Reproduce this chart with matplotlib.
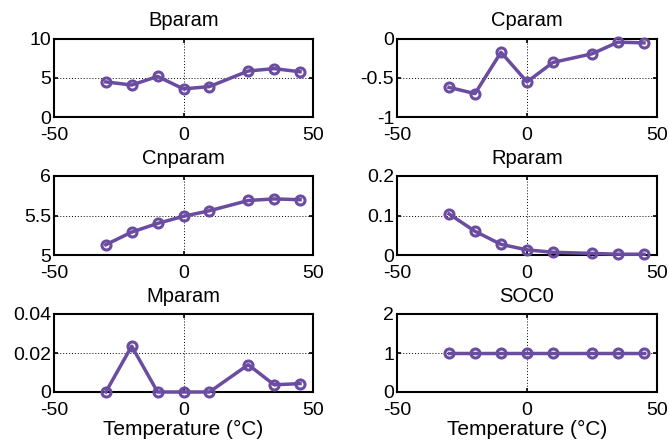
import matplotlib
matplotlib.use('Agg')
import matplotlib.pyplot as plt

plt.rcParams['font.family'] = ['Liberation Sans', 'DejaVu Sans']

temps = [-30, -20, -10, 0, 10, 25, 35, 45]

bparam = [4.5, 4.1, 5.2, 3.6, 3.9, 5.9, 6.2, 5.8]
cparam = [-0.62, -0.70, -0.17, -0.55, -0.30, -0.19, -0.04, -0.05]
cnparam = [5.13, 5.29, 5.40, 5.49, 5.56, 5.69, 5.71, 5.70]
rparam = [0.104, 0.060, 0.027, 0.013, 0.007, 0.004, 0.002, 0.002]
mparam = [0.0, 0.0235, 0.0, 0.0, 0.0, 0.014, 0.0037, 0.0043]
soc0 = [1, 1, 1, 1, 1, 1, 1, 1]

titles = ["Bparam", "Cparam", "Cnparam", "Rparam", "Mparam", "SOC0"]
series = [bparam, cparam, cnparam, rparam, mparam, soc0]
ylims = [(0, 10), (-1, 0), (5, 6), (0, 0.2), (0, 0.04), (0, 2)]
yticks = [[0, 5, 10], [-1, -0.5, 0], [5, 5.5, 6], [0, 0.1, 0.2],
          [0, 0.02, 0.04], [0, 1, 2]]
yticklabels = [["0", "5", "10"], ["-1", "-0.5", "0"], ["5", "5.5", "6"],
               ["0", "0.1", "0.2"], ["0", "0.02", "0.04"], ["0", "1", "2"]]

line_color = "#6a4ca0"

fig = plt.figure(figsize=(6.69, 4.46), dpi=100)

# axes boxes in pixels: left, top, right, bottom
col_x = [(54, 313), (397, 657)]
row_y = [(39, 117), (176, 255), (314, 392)]
W, H = 669.0, 446.0

for i in range(6):
    r, c = divmod(i, 2)
    x0, x1 = col_x[c]
    y0, y1 = row_y[r]
    ax = fig.add_axes([x0 / W, 1 - y1 / H, (x1 - x0) / W, (y1 - y0) / H])
    ax.plot(temps, series[i], color=line_color, linewidth=2.5,
            marker='o', markersize=6.5, markerfacecolor='none',
            markeredgewidth=2.2, clip_on=False, zorder=3)
    ax.set_xlim(-50, 50)
    ax.set_ylim(*ylims[i])
    ax.set_xticks([-50, 0, 50])
    ax.set_xticklabels(["-50", "0", "50"])
    ax.set_yticks(yticks[i])
    ax.set_yticklabels(yticklabels[i])
    ax.grid(True, linestyle=(0, (1, 2)), color='black', linewidth=0.7)
    ax.tick_params(direction='in', length=3, width=1.2, top=True, right=True,
                   labelsize=14)
    ax.tick_params(axis='x', pad=7)
    ax.tick_params(axis='y', pad=2)
    for sp in ax.spines.values():
        sp.set_linewidth(1.5)
    ax.set_title(titles[i], fontsize=14.5, pad=9)
    if r == 2:
        ax.set_xlabel("Temperature (°C)", fontsize=15, labelpad=1)

fig.savefig("out.png", dpi=100)
